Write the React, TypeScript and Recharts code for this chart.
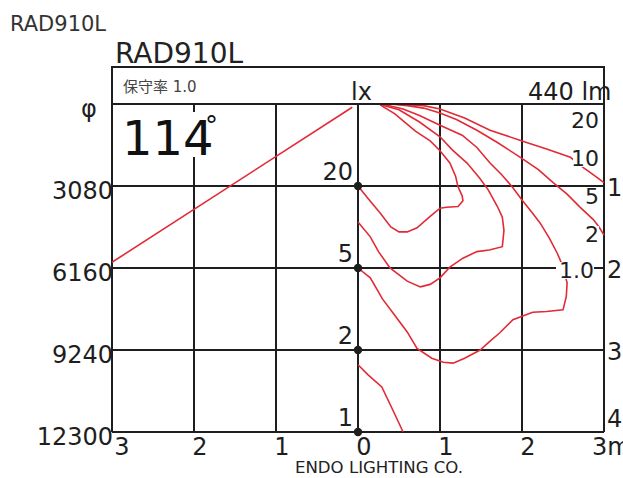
import React from 'react';
import { ComposedChart, Scatter, XAxis, YAxis, CartesianGrid } from 'recharts';

const FONT = '"DejaVu Sans", "Noto Sans CJK JP", sans-serif';
const RED = '#e12a36';
const INK = '#1e1e1e';

// axis ticks (horizontal distance in m, depth in m)
const xTicks = [-3, -2, -1, 0, 1, 2, 3];
const xTickLabels = ['3', '2', '1', '0', '1', '2', '3m'];
const depthTicks = [0, 1, 2, 3, 4];
const leftLabels = ['φ', '3080', '6160', '9240', '12300'];
const rightDepths = [1, 2, 3, 4];
const rightLabels = ['1', '2', '3', '4'];

// centre illuminance at each depth
const centerDepths = [1, 2, 3, 4];
const centerLux = ['20', '5', '2', '1'];

// isolux curve labels on the right side
const fanLabels = ['20', '10', '5', '2', '1.0'];
const fanLabelDepths = [0.195, 0.659, 1.122, 1.585, 2.024];

type P = [number, number];

// beam angle line (114°)
const beamLine: P[] = [[-0.07, 0.04], [-3, 1.93]];

// isolux curves [x (m), depth (m)]
const curve20: P[] = [
  [0.27, 0.01], [0.45, 0.12], [0.7, 0.33], [0.88, 0.45], [1.0, 0.57], [1.12, 0.72],
  [1.19, 0.88], [1.22, 1.01], [1.27, 1.12], [1.28, 1.18], [1.22, 1.25], [1.08, 1.26],
  [1.0, 1.27], [0.88, 1.37], [0.72, 1.51], [0.6, 1.56], [0.5, 1.56], [0.4, 1.5],
  [0.27, 1.33], [0.12, 1.15], [0, 1.0],
];
const curve10: P[] = [
  [0.28, 0.01], [0.5, 0.07], [0.75, 0.22], [1.0, 0.4], [1.15, 0.56], [1.33, 0.72],
  [1.48, 0.9], [1.59, 1.05], [1.7, 1.25], [1.76, 1.38], [1.78, 1.54], [1.76, 1.74],
  [1.6, 1.78], [1.45, 1.8], [1.28, 1.88], [1.12, 1.99], [1.0, 2.12], [0.88, 2.2],
  [0.76, 2.23], [0.6, 2.16], [0.39, 2.0], [0.25, 1.8], [0.15, 1.62], [0, 1.44],
];
const curve5: P[] = [
  [0.33, 0.01], [0.55, 0.06], [0.75, 0.14], [1.0, 0.26], [1.27, 0.38], [1.45, 0.53],
  [1.61, 0.72], [1.75, 0.86], [1.88, 1.01], [2.0, 1.17], [2.12, 1.32], [2.22, 1.45],
  [2.33, 1.63], [2.43, 1.82], [2.49, 1.96], [2.55, 2.18], [2.54, 2.35], [2.5, 2.51],
  [2.3, 2.53], [2.13, 2.54], [1.89, 2.63], [1.73, 2.79], [1.6, 2.9], [1.49, 3.0],
  [1.3, 3.1], [1.16, 3.16], [1.04, 3.15], [0.9, 3.1], [0.72, 2.98], [0.6, 2.78],
  [0.45, 2.58], [0.3, 2.38], [0.15, 2.12], [0, 2.0],
];
const curve2: P[] = [
  [0.39, 0.0], [0.6, 0.02], [0.8, 0.05], [1.0, 0.11], [1.2, 0.19], [1.45, 0.32],
  [1.7, 0.47], [1.98, 0.65], [2.2, 0.8], [2.38, 0.96], [2.55, 1.1], [2.71, 1.26],
  [2.87, 1.41], [2.94, 1.5], [3.0, 1.6],
];
const curve1: P[] = [
  [0.45, 0.0], [0.8, 0.02], [1.0, 0.06], [1.3, 0.17], [1.61, 0.32], [2.0, 0.45],
  [2.3, 0.55], [2.59, 0.65], [2.74, 0.77], [2.88, 0.87], [3.0, 0.96],
];
const curve2Lower: P[] = [[0, 3.18], [0.12, 3.3], [0.29, 3.45], [0.4, 3.68], [0.55, 4.0]];

const curves: P[][] = [curve20, curve10, curve5, curve2, curve1, curve2Lower, beamLine];

const toPts = (a: P[]) => a.map(([x, y]) => ({ x, y }));
const centerPts = centerDepths.map((d, i) => ({ x: 0, y: d, label: centerLux[i] }));
const fanPts = fanLabelDepths.map((d, i) => ({ x: 3, y: d, label: fanLabels[i] }));
const rightPts = rightDepths.map((d, i) => ({ x: 3, y: d, label: rightLabels[i], last: i === rightDepths.length - 1 }));

const Empty = () => <g />;

const XTick = (props: any) => {
  const { x, y, payload } = props;
  const i = xTicks.indexOf(payload.value);
  const last = i === xTicks.length - 1;
  const tx = i === 0 ? x + 10 : last ? x - 12 : x + 6;
  return (
    <text x={tx} y={y + 23} textAnchor={last ? 'start' : 'middle'} fontSize={24} fontFamily={FONT} fill={INK}>
      {xTickLabels[i]}
    </text>
  );
};

const LeftTick = (props: any) => {
  const { x, y, payload } = props;
  const i = depthTicks.indexOf(payload.value);
  if (i === 0) {
    return (
      <text x={x - 23} y={y + 13} textAnchor="middle" fontSize={24} fontFamily={FONT} fill={INK}>
        {leftLabels[i]}
      </text>
    );
  }
  return (
    <text x={x + 1} y={y + 13} textAnchor="end" fontSize={24} fontFamily={FONT} fill={INK}>
      {leftLabels[i]}
    </text>
  );
};

const RightLabel = (p: any) => (
  <text x={p.cx + 3} y={p.payload.last ? p.cy - 5 : p.cy + 10} textAnchor="start" fontSize={24} fontFamily={FONT} fill={INK}>
    {p.payload.label}
  </text>
);

const CenterDot = (p: any) => (
  <g>
    <circle cx={p.cx} cy={p.cy} r={4.2} fill={INK} />
    <text x={p.cx - 5} y={p.cy - 6} textAnchor="end" fontSize={24} fontFamily={FONT} fill={INK}>
      {p.payload.label}
    </text>
  </g>
);

const FanLabel = (p: any) => {
  const label: string = p.payload.label;
  const right = label.includes('.') ? p.cx - 10 : p.cx - 5;
  const w = label.length * 12 + 2;
  return (
    <g>
      <rect x={right - w} y={p.cy - 8} width={w} height={17} fill="#fff" />
      <text x={right} y={p.cy + 8} textAnchor="end" fontSize={22} fontFamily={FONT} fill={INK}>
        {label}
      </text>
    </g>
  );
};

export default function App() {
  return (
    <div style={{ position: 'absolute', left: 0, top: 0, width: 623, height: 478, background: '#fff', overflow: 'hidden' }}>
      <ComposedChart width={623} height={478} margin={{ top: 104, right: 19, bottom: 16, left: 12 }}>
        <CartesianGrid stroke={INK} strokeWidth={2} />
        <XAxis
          type="number"
          dataKey="x"
          domain={[-3, 3]}
          ticks={xTicks}
          interval={0}
          height={30}
          axisLine={false}
          tickLine={false}
          tickSize={0}
          tickMargin={0}
          tick={<XTick />}
        />
        <YAxis
          type="number"
          dataKey="y"
          domain={[0, 4]}
          reversed
          ticks={depthTicks}
          interval={0}
          width={100}
          axisLine={false}
          tickLine={false}
          tickSize={0}
          tickMargin={0}
          tick={<LeftTick />}
        />
        {curves.map((c, i) => (
          <Scatter
            key={i}
            data={toPts(c)}
            line={{ stroke: RED, strokeWidth: 1.6, fill: 'none' }}
            lineJointType="linear"
            shape={Empty}
            isAnimationActive={false}
          />
        ))}
        <Scatter data={centerPts} shape={CenterDot} isAnimationActive={false} />
        <Scatter data={fanPts} shape={FanLabel} isAnimationActive={false} />
        <Scatter data={rightPts} shape={RightLabel} isAnimationActive={false} />
      </ComposedChart>
      <svg width={623} height={478} style={{ position: 'absolute', left: 0, top: 0, pointerEvents: 'none', zIndex: 5 }}>
        <text x={10} y={31} fontSize={21} fontFamily={FONT} fill="#333">RAD910L</text>
        <text x={115} y={63} fontSize={28} fontFamily={FONT} fill="#222">RAD910L</text>
        <text x={123} y={92} fontSize={15} fontFamily={FONT} fill="#444">保守率 1.0</text>
        <text x={351} y={100} fontSize={24} fontFamily={FONT} fill={INK}>lx</text>
        <text x={528} y={100} fontSize={24} fontFamily={FONT} fill={INK}>440 lm</text>
        <rect x={112} y={67} width={492} height={37} fill="none" stroke={INK} strokeWidth={2} />
        <rect x={120} y={112} width={100} height={45} fill="#fff" />
        <text x={122} y={155} fontSize={48} fontFamily={FONT} fill="#111">114</text>
        <text x={205} y={135} fontSize={26} fontFamily={FONT} fill="#111">°</text>
        <text x={295} y={473} fontSize={16} fontFamily={FONT} fill="#222" textLength={168} lengthAdjust="spacingAndGlyphs">
          ENDO LIGHTING CO.
        </text>
      </svg>
    </div>
  );
}
